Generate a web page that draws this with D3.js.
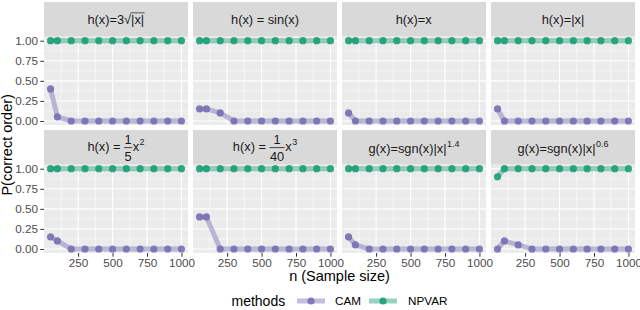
<!DOCTYPE html>
<html>
<head>
<meta charset="utf-8">
<script src="https://cdn.jsdelivr.net/npm/d3@7"></script>
<style>
  body { margin: 0; background: #fff; }
  svg { display: block; font-family: "Liberation Sans", Arial, sans-serif; }
</style>
</head>
<body>
<svg id="chart" width="640" height="310"></svg>
<script>
// sample sizes on the x axis
var sampleSizes = [50, 100, 200, 300, 400, 500, 600, 700, 800, 900, 1000];

// P(correct order) for each panel
var camValues = [
  [0.40, 0.05, 0, 0, 0, 0, 0, 0, 0, 0, 0],
  [0.15, 0.15, 0.10, 0, 0, 0, 0, 0, 0, 0, 0],
  [0.10, 0, 0, 0, 0, 0, 0, 0, 0, 0, 0],
  [0.15, 0, 0, 0, 0, 0, 0, 0, 0, 0, 0],
  [0.15, 0.10, 0, 0, 0, 0, 0, 0, 0, 0, 0],
  [0.40, 0.40, 0, 0, 0, 0, 0, 0, 0, 0, 0],
  [0.15, 0.05, 0, 0, 0, 0, 0, 0, 0, 0, 0],
  [0, 0.10, 0.05, 0, 0, 0, 0, 0, 0, 0, 0]
];
var npvarValues = [
  [1, 1, 1, 1, 1, 1, 1, 1, 1, 1, 1],
  [1, 1, 1, 1, 1, 1, 1, 1, 1, 1, 1],
  [1, 1, 1, 1, 1, 1, 1, 1, 1, 1, 1],
  [1, 1, 1, 1, 1, 1, 1, 1, 1, 1, 1],
  [1, 1, 1, 1, 1, 1, 1, 1, 1, 1, 1],
  [1, 1, 1, 1, 1, 1, 1, 1, 1, 1, 1],
  [1, 1, 1, 1, 1, 1, 1, 1, 1, 1, 1],
  [0.90, 1, 1, 1, 1, 1, 1, 1, 1, 1, 1]
];

// strip labels (plotmath-like pieces)
var panelLabels = [
  [{t: "h(x)=3"}, {sqrt: "|x|"}],
  [{t: "h(x) = sin(x)"}],
  [{t: "h(x)=x"}],
  [{t: "h(x)=|x|"}],
  [{t: "h(x) = "}, {frac: ["1", "5"]}, {t: "x"}, {sup: "2"}],
  [{t: "h(x) = "}, {frac: ["1", "40"]}, {t: "x"}, {sup: "3"}],
  [{t: "g(x)=sgn(x)|x|"}, {sup: "1.4"}],
  [{t: "g(x)=sgn(x)|x|"}, {sup: "0.6"}]
];

var methods = ["CAM", "NPVAR"];
var xTicks = [250, 500, 750, 1000];
var xMinor = [125, 375, 625, 875];
var yTicks = [0, 0.25, 0.5, 0.75, 1];
var yMinor = [0.125, 0.375, 0.625, 0.875];

var colors = {CAM: "#7570B3", NPVAR: "#1B9E77"};

var svg = d3.select("#chart");

var left = 44, colStep = 149, pw = 144,
    stripH = 34.7, ph = 88.3,
    rowTop = [2, 130];

var x = d3.scaleLinear().domain([2.5, 1047.5]).range([0, pw]);
var y = d3.scaleLinear().domain([-0.05, 1.05]).range([ph, 0]);

var line = d3.line()
    .x(function(d) { return x(d.n); })
    .y(function(d) { return y(d.p); });

function drawLabel(g, parts) {
  var fs = 12.8, cx = 0;
  parts.forEach(function(p) {
    if (p.t) {
      var t = g.append("text").attr("x", cx).attr("y", 0)
          .attr("font-size", fs).attr("fill", "#1A1A1A")
          .style("white-space", "pre").text(p.t);
      cx += t.node().getComputedTextLength();
    } else if (p.frac) {
      var num = g.append("text").attr("y", -7.5).attr("font-size", fs)
          .attr("fill", "#1A1A1A").attr("text-anchor", "middle").text(p.frac[0]);
      var den = g.append("text").attr("y", 10).attr("font-size", fs)
          .attr("fill", "#1A1A1A").attr("text-anchor", "middle").text(p.frac[1]);
      var w = Math.max(num.node().getComputedTextLength(), den.node().getComputedTextLength()) + 1;
      num.attr("x", cx + w / 2);
      den.attr("x", cx + w / 2);
      g.append("line").attr("x1", cx).attr("x2", cx + w)
          .attr("y1", -3.5).attr("y2", -3.5)
          .attr("stroke", "#1A1A1A").attr("stroke-width", 0.8);
      cx += w + 0.5;
    } else if (p.sup) {
      var s = g.append("text").attr("x", cx + 0.5).attr("y", -6)
          .attr("font-size", 9).attr("fill", "#1A1A1A").text(p.sup);
      cx += s.node().getComputedTextLength() + 0.5;
    } else if (p.sqrt) {
      var r = g.append("text").attr("x", cx).attr("y", 0).attr("font-size", fs)
          .attr("fill", "#1A1A1A").text("\u221A");
      cx += r.node().getComputedTextLength() - 0.5;
      var rad = g.append("text").attr("x", cx + 0.5).attr("y", 0).attr("font-size", fs)
          .attr("fill", "#1A1A1A").text(p.sqrt);
      var rw = rad.node().getComputedTextLength() + 1;
      g.append("line").attr("x1", cx).attr("x2", cx + rw)
          .attr("y1", -11.5).attr("y2", -11.5)
          .attr("stroke", "#1A1A1A").attr("stroke-width", 0.7);
      cx += rw;
    }
  });
}

panelLabels.forEach(function(lbl, i) {
  var col = i % 4, row = Math.floor(i / 4);
  var px = left + col * colStep, sy = rowTop[row], py = sy + stripH;

  // strip
  svg.append("rect").attr("x", px).attr("y", sy).attr("width", pw).attr("height", stripH)
      .attr("fill", "#D9D9D9");
  var lg = svg.append("g");
  drawLabel(lg, lbl);
  var bb = lg.node().getBBox();
  lg.attr("transform", "translate(" + (px + pw / 2 - bb.x - bb.width / 2) + "," +
      (sy + stripH / 2 - bb.y - bb.height / 2 + 0.5) + ")");

  var g = svg.append("g").attr("transform", "translate(" + px + "," + py + ")");
  g.append("rect").attr("width", pw).attr("height", ph).attr("fill", "#EBEBEB");

  // grid
  g.selectAll(".ymin").data(yMinor).enter().append("line")
      .attr("x1", 0).attr("x2", pw).attr("y1", y).attr("y2", y)
      .attr("stroke", "#fff").attr("stroke-width", 0.53);
  g.selectAll(".xmin").data(xMinor).enter().append("line")
      .attr("y1", 0).attr("y2", ph).attr("x1", x).attr("x2", x)
      .attr("stroke", "#fff").attr("stroke-width", 0.53);
  g.selectAll(".ymaj").data(yTicks).enter().append("line")
      .attr("x1", 0).attr("x2", pw).attr("y1", y).attr("y2", y)
      .attr("stroke", "#fff").attr("stroke-width", 1.07);
  g.selectAll(".xmaj").data(xTicks).enter().append("line")
      .attr("y1", 0).attr("y2", ph).attr("x1", x).attr("x2", x)
      .attr("stroke", "#fff").attr("stroke-width", 1.07);

  var series = [
    {key: "CAM", values: sampleSizes.map(function(n, j) { return {n: n, p: camValues[i][j]}; })},
    {key: "NPVAR", values: sampleSizes.map(function(n, j) { return {n: n, p: npvarValues[i][j]}; })}
  ];

  g.selectAll(".ln").data(series).enter().append("path")
      .attr("d", function(d) { return line(d.values); })
      .attr("fill", "none")
      .attr("stroke", function(d) { return colors[d.key]; })
      .attr("stroke-opacity", 0.45)
      .attr("stroke-width", 5);

  series.forEach(function(s) {
    g.selectAll(null).data(s.values).enter().append("circle")
        .attr("cx", function(d) { return x(d.n); })
        .attr("cy", function(d) { return y(d.p); })
        .attr("r", 3.6)
        .attr("fill", colors[s.key])
        .attr("fill-opacity", 0.9);
  });

  // axes
  if (col === 0) {
    var ya = g.append("g").call(d3.axisLeft(y).tickValues(yTicks)
        .tickFormat(d3.format(".2f")).tickSize(3.7).tickPadding(2.2));
    ya.select(".domain").remove();
    ya.selectAll("line").attr("stroke", "#333");
    ya.selectAll("text").attr("fill", "#4D4D4D").attr("font-size", 11.7)
        .attr("font-family", "Liberation Sans, Arial, sans-serif");
  }
  if (row === 1) {
    var xa = g.append("g").attr("transform", "translate(0," + ph + ")")
        .call(d3.axisBottom(x).tickValues(xTicks).tickFormat(d3.format("d"))
        .tickSize(3.7).tickPadding(2.2));
    xa.select(".domain").remove();
    xa.selectAll("line").attr("stroke", "#333");
    xa.selectAll("text").attr("fill", "#4D4D4D").attr("font-size", 11.7)
        .attr("font-family", "Liberation Sans, Arial, sans-serif");
  }
});

// axis titles
svg.append("text").attr("x", left + (3 * colStep + pw) / 2).attr("y", 281)
    .attr("text-anchor", "middle").attr("font-size", 14.5).text("n (Sample size)");
svg.append("text").attr("transform", "translate(12," + (rowTop[0] + stripH + (rowTop[1] + stripH + ph - rowTop[0] - stripH) / 2) + ") rotate(-90)")
    .attr("text-anchor", "middle").attr("font-size", 14.5).text("P(correct order)");

// legend
var legY = 301;
svg.append("text").attr("x", 231.5).attr("y", legY + 5).attr("font-size", 14).text("methods");
var keyX = [297, 369], labX = [335, 408];
methods.forEach(function(m, i) {
  var kg = svg.append("g").attr("transform", "translate(" + keyX[i] + "," + legY + ")");
  kg.append("line").attr("x1", 0).attr("x2", 28).attr("stroke", colors[m])
      .attr("stroke-opacity", 0.45).attr("stroke-width", 5);
  kg.append("circle").attr("cx", 14).attr("r", 3.6).attr("fill", colors[m]).attr("fill-opacity", 0.9);
  svg.append("text").attr("x", labX[i]).attr("y", legY + 4).attr("font-size", 11.7).text(m);
});
</script>
</body>
</html>
